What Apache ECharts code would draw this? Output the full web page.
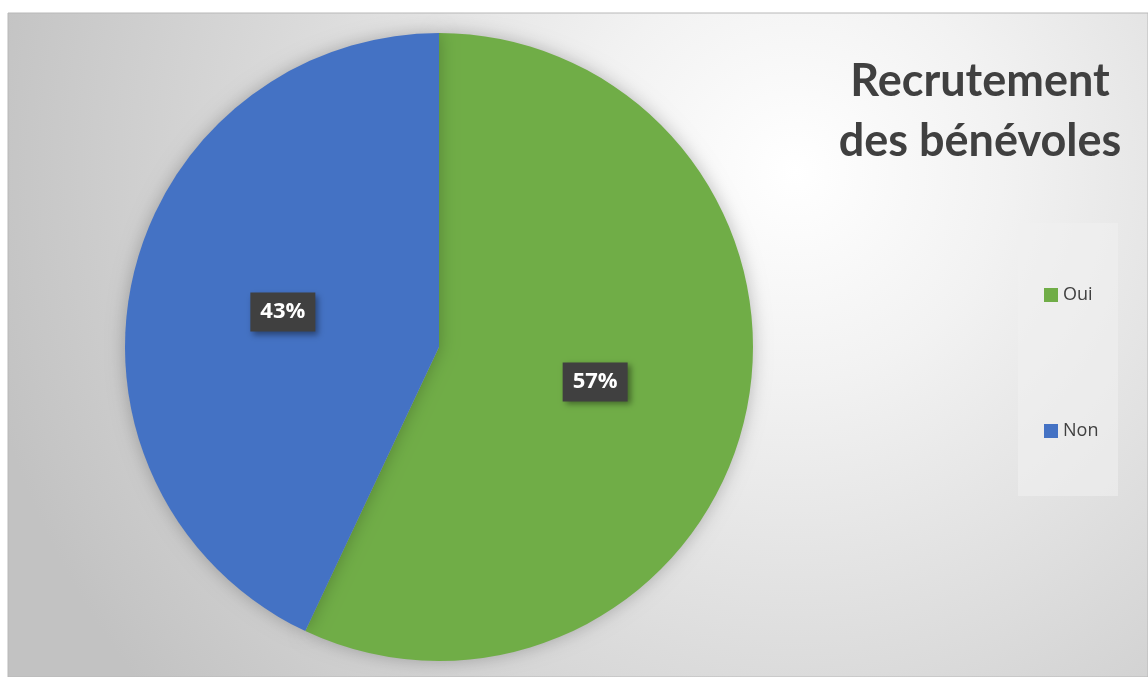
<!DOCTYPE html>
<html>
<head>
<meta charset="utf-8">
<script src="https://cdn.jsdelivr.net/npm/echarts@6/dist/echarts.min.js"></script>
<style>
  html, body { margin: 0; padding: 0; background: #fff; }
  #chart { width: 1148px; height: 677px; }
</style>
</head>
<body>
<div id="chart"></div>
<script>
// données
const categories = ['Oui', 'Non']
const values = [57, 43]
const colors = ['#70ad47', '#4472c4']
const chartTitle = 'Recrutement\ndes bénévoles'

const chart = echarts.init(document.getElementById('chart'))

const pieData = categories.map((name, i) => ({
  name,
  value: values[i],
  itemStyle: { color: colors[i] }
}))

chart.setOption({
  animation: false,
  graphic: [
    {
      // fond du graphique
      type: 'rect',
      z: -10,
      shape: { x: 8, y: 13, width: 1140, height: 664 },
      style: {
        fill: new echarts.graphic.RadialGradient(0.69, 0.24, 1.25, [
          { offset: 0, color: '#ffffff' },
          { offset: 0.25, color: '#f2f2f2' },
          { offset: 1, color: '#c2c2c2' }
        ]),
        stroke: '#b8b8b8',
        lineWidth: 1
      }
    },
    {
      // cadre de la légende
      type: 'rect',
      z: -5,
      shape: { x: 1018, y: 223, width: 100, height: 273 },
      style: { fill: 'rgba(240,240,240,0.6)' }
    }
  ],
  title: {
    text: chartTitle,
    left: 975,
    top: 46,
    textAlign: 'center',
    textStyle: {
      fontFamily: 'Lato',
      fontWeight: 'bold',
      fontSize: 45,
      lineHeight: 60,
      color: '#404040'
    }
  },
  legend: {
    orient: 'vertical',
    left: 1039,
    top: 281,
    itemWidth: 14,
    itemHeight: 14,
    itemGap: 118,
    icon: 'rect',
    textStyle: {
      fontFamily: 'Open Sans',
      fontSize: 18,
      color: '#404040'
    },
    data: categories
  },
  series: [
    {
      type: 'pie',
      center: [439, 347],
      radius: 314,
      startAngle: 90,
      clockwise: true,
      data: pieData,
      itemStyle: {
        shadowBlur: 18,
        shadowColor: 'rgba(0,0,0,0.25)'
      },
      label: {
        position: 'inside',
        formatter: p => p.value + '%',
        fontFamily: 'Open Sans',
        fontWeight: 'bold',
        fontSize: 22,
        color: '#ffffff',
        backgroundColor: '#404040',
        padding: [9, 10, 8, 10],
        shadowBlur: 6,
        shadowOffsetX: 3,
        shadowOffsetY: 3,
        shadowColor: 'rgba(0,0,0,0.4)'
      },
      labelLine: { show: false },
      emphasis: { disabled: true }
    }
  ]
})
</script>
</body>
</html>
